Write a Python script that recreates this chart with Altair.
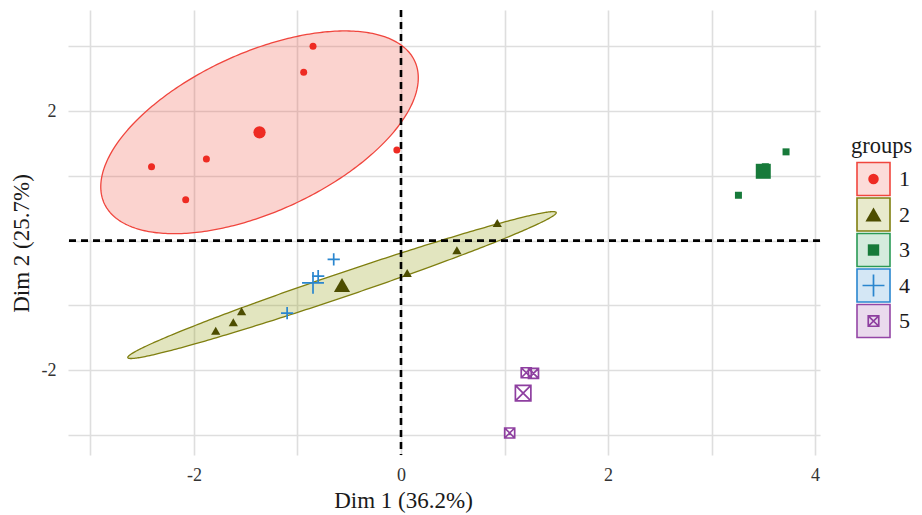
import altair as alt
import numpy as np
import pandas as pd

# Individual coordinates on the first two principal dimensions, by group
dim1_g1 = [-0.85, -0.94, -1.88, -2.41, -2.08, -0.04]
dim2_g1 = [3.00, 2.60, 1.26, 1.14, 0.63, 1.40]
dim1_g2 = [0.93, 0.54, 0.06, -1.54, -1.62, -1.79]
dim2_g2 = [0.27, -0.15, -0.50, -1.09, -1.26, -1.39]
dim1_g3 = [3.72, 3.52, 3.26]
dim2_g3 = [1.37, 1.14, 0.70]
dim1_g4 = [-0.65, -0.80, -1.10]
dim2_g4 = [-0.29, -0.55, -1.12]
dim1_g5 = [1.21, 1.28, 1.05]
dim2_g5 = [-2.04, -2.05, -2.97]

groups = ["1", "2", "3", "4", "5"]
dim1 = [dim1_g1, dim1_g2, dim1_g3, dim1_g4, dim1_g5]
dim2 = [dim2_g1, dim2_g2, dim2_g3, dim2_g4, dim2_g5]

x_title = "Dim 1 (36.2%)"
y_title = "Dim 2 (25.7%)"
axis_ticks = [-3, -2, -1, 0, 1, 2, 3, 4]

FONT = "Liberation Serif"
W, H = 752, 445

point_col = ["#EE2B23", "#4D4D00", "#177A3A", "#2A86CF", "#8E3FA0"]
line_col = ["#F0463E", "#7F7F10", "#2A9A55", "#2A86CF", "#9446A6"]
fill_col = ["#EF4F3F", "#8B9700", "#2A9A55", "#2A86CF", "#9446A6"]

PLUS = "M-1,0L1,0M0,-1L0,1"
SQUARE_X = "M-1,-1L1,-1L1,1L-1,1Z M-1,-1L1,1 M1,-1L-1,1"
shapes = ["circle", "triangle-up", "square", PLUS, SQUARE_X]
filled = [True, True, True, False, False]
size_pt = [49, 85, 49, 150, 100]
size_ctr = [150, 260, 225, 480, 240]
size_leg = [110, 260, 130, 480, 110]

ELLIPSE_R = 1.7  # radius in standard-deviation units

x_scale = alt.Scale(domain=[-3.217, 4.048], nice=False, zero=False)
y_scale = alt.Scale(domain=[-3.31, 3.56], nice=False, zero=False)

x_axis = alt.Axis(values=axis_ticks, title=x_title,
                  labelExpr="datum.value % 2 == 0 ? toString(datum.value) : ''",
                  labelPadding=11, titlePadding=5, titleX=335, titleAnchor="start", titleAlign="center")
y_axis = alt.Axis(values=axis_ticks, title=y_title,
                  labelExpr="datum.value % 2 == 0 && datum.value != 0 ? toString(datum.value) : ''",
                  labelPadding=12, titlePadding=8, titleY=233, titleAnchor="start", titleAlign="center")


def ellipse_band(xs, ys, r, n=240):
    xs, ys = np.asarray(xs), np.asarray(ys)
    mx, my = xs.mean(), ys.mean()
    S = np.cov(np.vstack([xs, ys]))
    a, b, c = S[0, 0], S[1, 1], S[0, 1]
    det = a * b - c * c
    w = r * np.sqrt(a)
    dx = -w * np.cos(np.linspace(0, np.pi, n))
    root = np.sqrt(np.clip(det * (a * r * r - dx * dx), 0, None))
    lo = (c * dx - root) / a
    hi = (c * dx + root) / a
    band = pd.DataFrame({"x": mx + dx, "y": my + lo, "y2": my + hi})
    t = np.linspace(0, 2 * np.pi, 361)
    vals, vecs = np.linalg.eigh(S)
    pts = vecs @ (np.sqrt(vals)[:, None] * np.vstack([np.cos(t), np.sin(t)])) * r
    outline = pd.DataFrame({"x": mx + pts[0], "y": my + pts[1], "k": np.arange(len(t))})
    return band, outline


layers = []
# confidence ellipses for groups with enough individuals
for i, g in enumerate(groups):
    if len(dim1[i]) < 4:
        continue
    band, outline = ellipse_band(dim1[i], dim2[i], ELLIPSE_R)
    layers.append(alt.Chart(band).mark_area(color=fill_col[i], opacity=0.25).encode(
        x=alt.X("x:Q", scale=x_scale, axis=x_axis),
        y=alt.Y("y:Q", scale=y_scale, axis=y_axis),
        y2="y2:Q"))
    layers.append(alt.Chart(outline).mark_line(color=line_col[i], strokeWidth=1.3).encode(
        x=alt.X("x:Q", scale=x_scale, axis=x_axis),
        y=alt.Y("y:Q", scale=y_scale, axis=y_axis),
        order="k:Q"))

# dashed reference lines through the origin
layers.append(alt.Chart(pd.DataFrame({"v": [0]})).mark_rule(
    color="black", strokeWidth=2.6, strokeDash=[7, 5]).encode(
    x=alt.X("v:Q", scale=x_scale, axis=x_axis)))
layers.append(alt.Chart(pd.DataFrame({"v": [0]})).mark_rule(
    color="black", strokeWidth=2.6, strokeDash=[7, 5]).encode(
    y=alt.Y("v:Q", scale=y_scale, axis=y_axis)))

# individuals and group centroids
for i, g in enumerate(groups):
    df = pd.DataFrame({"x": dim1[i], "y": dim2[i]})
    ctr = pd.DataFrame({"x": [np.mean(dim1[i])], "y": [np.mean(dim2[i])]})
    for data, size in ((df, size_pt[i]), (ctr, size_ctr[i])):
        props = dict(shape=shapes[i], size=size, opacity=1)
        if filled[i]:
            props.update(filled=True, fill=point_col[i], strokeWidth=0)
        else:
            props.update(filled=False, stroke=point_col[i], strokeWidth=1.7)
        layers.append(alt.Chart(data).mark_point(**props).encode(
            x=alt.X("x:Q", scale=x_scale, axis=x_axis),
            y=alt.Y("y:Q", scale=y_scale, axis=y_axis)))

main = alt.layer(*layers)

# legend drawn beside the panel
leg_df = pd.DataFrame({"group": groups, "k": [1, 2, 3, 4, 5]})
leg_y = alt.Y("k:Q", scale=alt.Scale(domain=[-3.761, 8.774], reverse=True, nice=False, zero=False), axis=None)
leg_layers = [
    alt.Chart(leg_df).mark_square(size=1089, strokeWidth=1.6, fillOpacity=0.2, strokeOpacity=1).encode(
        x=alt.value(805.5), y=leg_y,
        fill=alt.Fill("group:N", scale=alt.Scale(domain=groups, range=fill_col), legend=None),
        stroke=alt.Stroke("group:N", scale=alt.Scale(domain=groups, range=line_col), legend=None)),
]
for i, g in enumerate(groups):
    props = dict(shape=shapes[i], size=size_leg[i], opacity=1)
    if filled[i]:
        props.update(filled=True, fill=point_col[i], strokeWidth=0)
    else:
        props.update(filled=False, stroke=point_col[i], strokeWidth=1.7)
    leg_layers.append(alt.Chart(leg_df[leg_df.group == g]).mark_point(**props).encode(
        x=alt.value(805.5), y=leg_y))
leg_layers.append(alt.Chart(leg_df).mark_text(
    font=FONT, fontSize=22, align="left", baseline="middle", color="#1A1A1A").encode(
    x=alt.value(831), y=leg_y, text="group:N"))
leg_layers.append(alt.Chart(pd.DataFrame({"t": ["groups"]})).mark_text(
    font=FONT, fontSize=22.5, align="left", baseline="middle", color="#1A1A1A").encode(
    x=alt.value(783), y=alt.value(136), text="t:N"))
legend = alt.layer(*leg_layers)

chart = alt.layer(main, legend).resolve_scale(y="independent").properties(
    width=W, height=H,
    autosize=alt.AutoSizeParams(type="none"),
    padding={"left": 68, "top": 10, "right": 102, "bottom": 60},
).configure_view(stroke=None).configure_axis(
    grid=True, gridColor="#DEDEDE", gridWidth=1.6, domain=False, ticks=False,
    labelFont=FONT, labelFontSize=18, labelColor="#333333",
    titleFont=FONT, titleFontSize=23, titleFontWeight="normal", titleColor="#1A1A1A",
)

chart.save("out.html", embed_options={"renderer": "svg", "actions": False})
